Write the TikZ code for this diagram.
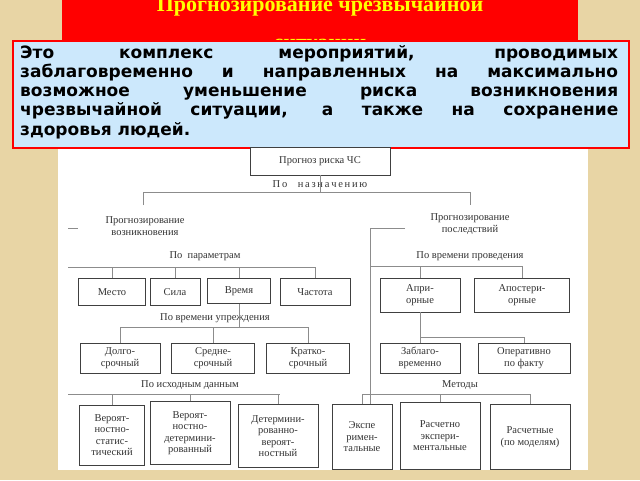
\documentclass[tikz,border=0pt]{standalone}
\usepackage{fontspec}
\setmainfont{Liberation Serif}
\newfontfamily\bodyfont{DejaVu Sans}
\begin{document}
\begin{tikzpicture}[x=1pt,y=-1pt,
  bx/.style={draw=black!75,line width=0.8pt,fill=white,align=center,inner sep=1pt,font=\fontsize{10.5}{11.5}\selectfont,text=black!80},
  lb/.style={align=center,font=\fontsize{10.5}{11.5}\selectfont,text=black!80},
  ln/.style={draw=black!45,line width=0.7pt}]
\useasboundingbox (0,0) rectangle (640,480);
\fill[fill={rgb,255:red,232;green,213;blue,165}] (0,0) rectangle (640,480);
\fill[white] (58,140) rectangle (588,470);
% title
\fill[red] (62,0) rectangle (578,42);
\node[text={rgb,255:red,255;green,255;blue,0},font=\fontsize{22}{22}\bfseries] (t1) at (320,6) {Прогнозирование чрезвычайной};
\node[text={rgb,255:red,255;green,255;blue,0},font=\fontsize{22}{22}\bfseries] (t2) at (320,47) {ситуации};
\node[draw=red,line width=1.5pt,fill={rgb,255:red,204;green,232;blue,252},minimum width=616,minimum height=107,anchor=north west,inner sep=0] (def) at (12,40) {};
\node[anchor=north west,text width=598,align=justify,font=\bodyfont\fontsize{17}{19.2}\selectfont\bfseries,inner sep=0] (dtx) at (20,45) {Это комплекс мероприятий, проводимых\linebreak заблаговременно и направленных на максимально\linebreak возможное уменьшение риска возникновения\linebreak чрезвычайной ситуации, а также на сохранение\linebreak здоровья людей.};
% diagram
\node[bx,minimum width=140,minimum height=28] (root) at (320,161) {Прогноз риска ЧС};
\node[lb] (nazn) at (320,184) {П\,о\quad н\,а\,з\,н\,а\,ч\,е\,н\,и\,ю};
\node[lb] (voz) at (145,226) {Прогнозирование\\возникновения};
\node[lb] (posl) at (470,224) {Прогнозирование\\последствий};
\coordinate (bl) at (143,192); \coordinate (br) at (470,192);
\draw[ln] (root.south) -- (320,192);
\draw[ln] (143,205) -- (bl) -- (br) -- (470,205);
\draw[ln] (68,228) -- (78,228);
\coordinate (sp) at (370,228);
\draw[ln] (405,228) -- (sp) -- (370,450);
% left params
\node[lb] (ppar) at (205,256) {По\ \ параметрам};
\node[bx,minimum width=67,minimum height=27] (mesto) at (112,292) {Место};
\node[bx,minimum width=50,minimum height=27] (sila) at (175,292) {Сила};
\node[bx,minimum width=63,minimum height=25] (vrem) at (239,291) {Время};
\node[bx,minimum width=70,minimum height=27] (chast) at (315,292) {Частота};
\draw[ln] (68,267) -- (315,267);
\foreach \n in {mesto,sila,vrem,chast} \draw[ln] (\n.north) -- (\n.north |- 0,267);
\node[lb] (pupr) at (215,318) {По времени упреждения};
\node[bx,minimum width=80,minimum height=30] (dolg) at (120,358) {Долго-\\срочный};
\node[bx,minimum width=83,minimum height=30] (sred) at (213,358) {Средне-\\срочный};
\node[bx,minimum width=83,minimum height=30] (krat) at (308,358) {Кратко-\\срочный};
\draw[ln] (120,327) -- (308,327);
\draw[ln] (vrem.south) -- (239,327);
\foreach \n in {dolg,sred,krat} \draw[ln] (\n.north) -- (\n.north |- 0,327);
\node[lb] (pish) at (190,385) {По исходным данным};
\node[bx,minimum width=65,minimum height=60] (v1) at (112,435) {Вероят-\\ностно-\\статис-\\тический};
\node[bx,minimum width=80,minimum height=63] (v2) at (190,433) {Вероят-\\ностно-\\детермини-\\рованный};
\node[bx,minimum width=80,minimum height=63] (v3) at (278,436) {Детермини-\\рованно-\\вероят-\\ностный};
\draw[ln] (68,394) -- (280,394);
\foreach \n in {v1,v2,v3} \draw[ln] (\n.north) -- (\n.north |- 0,394);
% right
\node[lb] (pprov) at (470,256) {По времени проведения};
\node[bx,minimum width=80,minimum height=34] (apr) at (420,295) {Апри-\\орные};
\node[bx,minimum width=95,minimum height=34] (apost) at (522,295) {Апостери-\\орные};
\draw[ln] (370,266) -- (522,266);
\foreach \n in {apr,apost} \draw[ln] (\n.north) -- (\n.north |- 0,266);
\node[bx,minimum width=80,minimum height=30] (zabl) at (420,358) {Заблаго-\\временно};
\node[bx,minimum width=92,minimum height=30] (oper) at (524,358) {Оперативно\\по факту};
\draw[ln] (apr.south) -- (420,337) -- (524,337);
\foreach \n in {zabl,oper} \draw[ln] (\n.north) -- (\n.north |- 0,337);
\node[lb] (met) at (460,385) {Методы};
\node[bx,minimum width=60,minimum height=65] (e1) at (362,437) {Экспе\\римен-\\тальные};
\node[bx,minimum width=80,minimum height=67] (e2) at (440,436) {Расчетно\\экспери-\\ментальные};
\node[bx,minimum width=80,minimum height=65] (e3) at (530,437) {Расчетные\\(по моделям)};
\draw[ln] (362,394) -- (530,394);
\foreach \n in {e1,e2,e3} \draw[ln] (\n.north) -- (\n.north |- 0,394);
\end{tikzpicture}
\end{document}
